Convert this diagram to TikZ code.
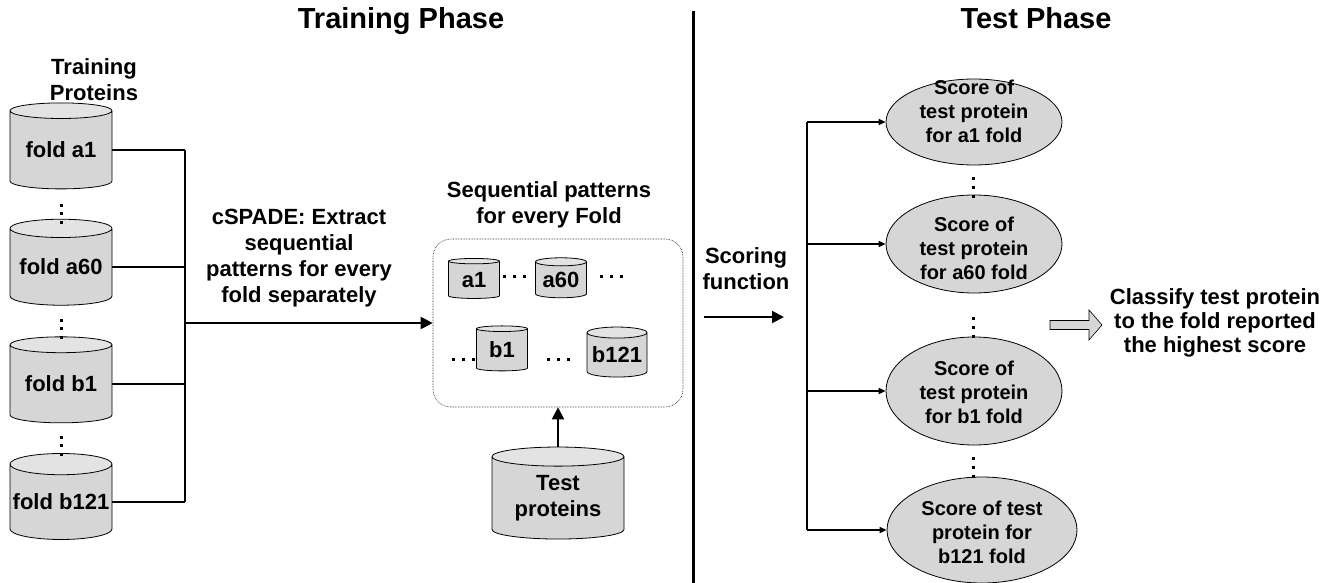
\documentclass[tikz,border=0pt]{standalone}
\usepackage{fontspec}
\setmainfont{Liberation Sans}
\usetikzlibrary{shapes.geometric,arrows.meta}

\begin{document}
\begin{tikzpicture}[x=1pt,y=-1pt,line width=0.8pt,
	db/.style={cylinder,shape border rotate=90,aspect=0.22,draw,line width=0.8pt,
		cylinder uses custom fill,cylinder body fill=gray!32,cylinder end fill=gray!22,
		inner sep=0pt,align=center,font=\fontsize{22}{26}\selectfont\bfseries},
	txt/.style={align=center,inner sep=0pt,font=\fontsize{22}{26}\selectfont\bfseries},
	score/.style={ellipse,draw,line width=0.8pt,fill=gray!32,inner sep=0pt},
	link/.style={line width=2pt},
	feed/.style={line width=2pt,-{Triangle[length=12pt,width=12pt]}},
	tick/.style={line width=2pt,-{Triangle[length=7pt,width=6pt]}}]
\useasboundingbox (0,0) rectangle (1333,583);

% headings and divider
\node[anchor=base,font=\fontsize{29}{32}\selectfont\bfseries] (trainhd) at (401,29) {Training Phase};
\node[anchor=base,font=\fontsize{29}{32}\selectfont\bfseries] (testhd) at (1036,29) {Test Phase};
\draw[line width=3pt] (693,11) -- (693,583);

% training folds
\node[txt] (trlbl) at (94,80) {Training\\Proteins};
\foreach \n/\y in {a1/150,a60/267,b1/384,b121/502}
	\node[db,minimum width=102pt,minimum height=86pt] (f\n) at (61,\y) {fold \n};
\foreach \y in {203.5,318.5,435.5}{
	\foreach \d in {0,8.5,17}
		\fill (59.5,\y+\d) rectangle ++(3,3);
}
\coordinate (lbus) at (185,0);
\foreach \n in {a1,a60,b1,b121}
	\draw[link] (f\n) -- (f\n -| lbus);
\draw[link] (fa1 -| lbus) -- (fb121 -| lbus);

% cSPADE step
\node[txt] (cspade) at (299,258) {cSPADE: Extract\\sequential\\patterns for every\\fold separately};
\node[draw,densely dotted,line width=0.6pt,rounded corners=18pt,minimum width=250pt,minimum height=168pt] (pats) at (558,323) {};
\draw[feed] (lbus |- pats.west) -- (pats.west);
\node[txt] (patlbl) at (549,205) {Sequential patterns\\for every Fold};

% pattern sets
\node[db,minimum width=51pt,minimum height=40pt] (sa1) at (474,280) {a1};
\node[db,minimum width=51pt,minimum height=40pt] (sa60) at (561,280) {a60};
\node[db,minimum width=51pt,minimum height=45pt] (sb1) at (502,350) {b1};
\node[db,minimum width=60pt,minimum height=50pt] (sb121) at (617,355) {b121};
\foreach \x/\y in {503/274.5,600/274.5,452/357.5,547/357.5}{
	\foreach \d in {0,10,20}
		\fill (\x+\d,\y) rectangle ++(3,3);
}

% test set
\node[db,minimum width=132pt,minimum height=92pt] (tp) at (558,498) {Test\\proteins};
\draw[feed] (tp) -- (tp |- pats.south);

% scoring
\node[txt] (scfn) at (746,269) {Scoring\\function};
\coordinate (scin) at (704,317);
\coordinate (scout) at (784,317);
\draw[feed] (scin) -- (scout);

\coordinate (rbus) at (807,0);
\foreach \n/\x/\y/\w/\h in {1/974/122/176/86,2/974/244/176/98,3/974/391/176/108,4/982/530/190/106}
	\node[score,minimum width=\w pt,minimum height=\h pt] (s\n) at (\x,\y) {};
\node[txt,font=\fontsize{20}{24}\selectfont\bfseries] (s1txt) at (974,111) {Score of\\test protein\\for a1 fold};
\node[txt,font=\fontsize{20}{24}\selectfont\bfseries] (s2txt) at (974,248) {Score of\\test protein\\for a60 fold};
\node[txt,font=\fontsize{20}{24}\selectfont\bfseries] (s3txt) at (974,392) {Score of\\test protein\\for b1 fold};
\node[txt,font=\fontsize{20}{24}\selectfont\bfseries] (s4txt) at (982,532) {Score of test\\protein for\\b121 fold};
\foreach \n in {1,...,4}
	\draw[tick] (s\n -| rbus) -- (s\n);
\draw[link] (s1 -| rbus) -- (s4 -| rbus);
\foreach \y in {176.5,316.5,456.5}{
	\foreach \d in {0,9,18}
		\fill (971.5,\y+\d) rectangle ++(3,3);
}

% decision
\draw[fill=gray!32,line width=0.6pt] (1050,320.5) -- (1089,320.5) -- (1089,310) -- (1102,325)
	-- (1089,340) -- (1089,329.5) -- (1050,329.5) -- cycle;
\node[txt,font=\fontsize{22}{24}\selectfont\bfseries] (decide) at (1215,323) {Classify test protein\\to the fold reported\\the highest score};
\end{tikzpicture}
\end{document}
